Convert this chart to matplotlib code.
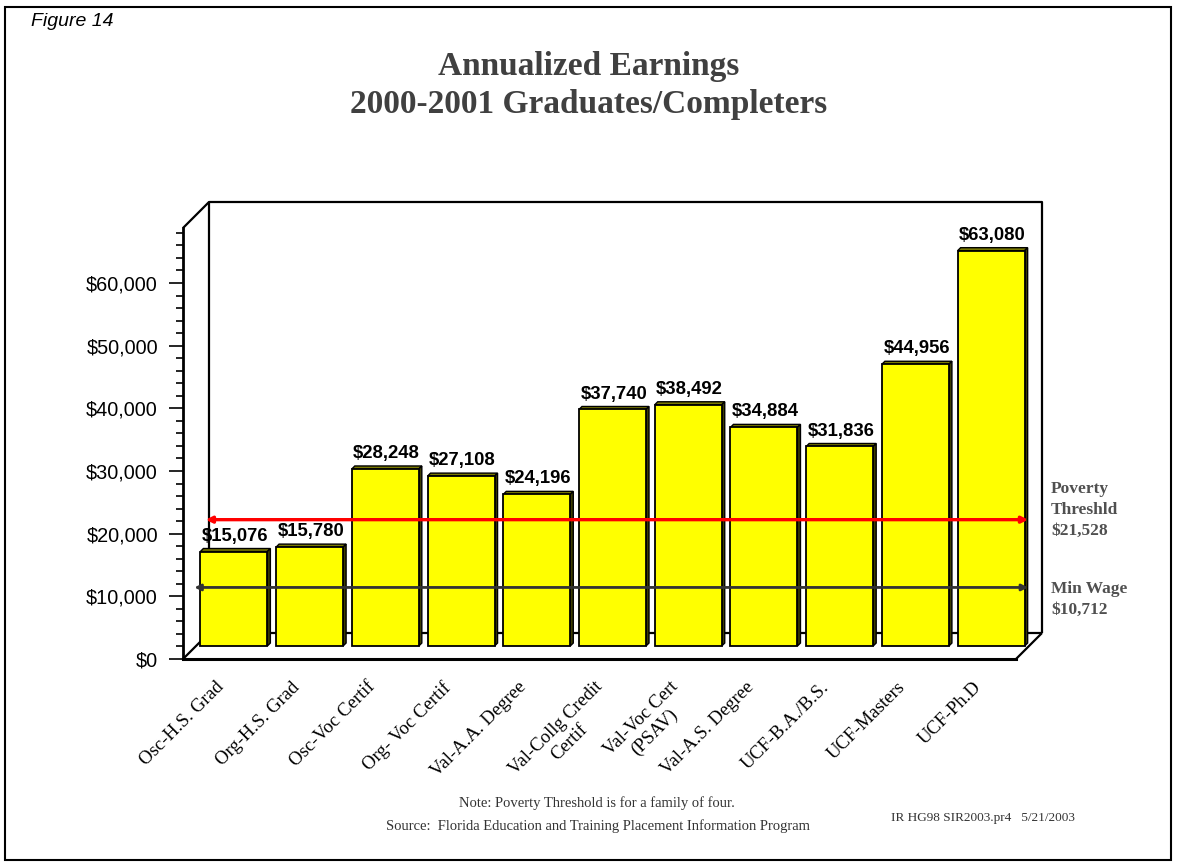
import matplotlib
matplotlib.use("Agg")
import matplotlib.pyplot as plt
from matplotlib.patches import Polygon, Rectangle
from matplotlib.ticker import FuncFormatter

# ---- data -------------------------------------------------------------
categories = [
    "Osc-H.S. Grad", "Org-H.S. Grad", "Osc-Voc Certif", "Org- Voc Certif",
    "Val-A.A. Degree", "Val-Collg Credit\nCertif", "Val-Voc Cert\n(PSAV)",
    "Val-A.S. Degree", "UCF-B.A./B.S.", "UCF-Masters", "UCF-Ph.D",
]
earnings = [15076, 15780, 28248, 27108, 24196, 37740, 38492, 34884, 31836, 44956, 63080]
value_labels = ["$15,076", "$15,780", "$28,248", "$27,108", "$24,196", "$37,740",
                "$38,492", "$34,884", "$31,836", "$44,956", "$63,080"]
poverty_threshold = 21528
min_wage = 10712

SANS = "Liberation Sans"
SERIF = "Liberation Serif"

# ---- figure / axes geometry ------------------------------------------
W, H = 1177, 867
fig = plt.figure(figsize=(W / 100, H / 100), dpi=100)
fig.patch.set_facecolor("white")

# plot box (pixels): front floor from x=183 to 1016, y=659 up to 202
left_px, right_px, bottom_px, top_px = 183, 1016, 659, 202
ax = fig.add_axes([left_px / W, 1 - bottom_px / H,
                   (right_px - left_px) / W, (bottom_px - top_px) / H])
n = len(categories)
px_per_unit = (right_px - left_px) / n
px_per_dollar = 6.267 / 1000
ymax = (bottom_px - top_px) / px_per_dollar
ax.set_xlim(-0.5, n - 0.5)
ax.set_ylim(0, ymax)
ax.set_facecolor("none")

# 3-D depth of the chart box, in data units
depth_px = 26
DX = depth_px / px_per_unit
DY = depth_px / px_per_dollar
x0, x1 = -0.5, n - 0.5
wall_top = ymax - DY  # top of the left wall

# back wall and floor outline
wall_kw = dict(color="black", lw=1.6, solid_capstyle="butt", clip_on=False, zorder=1)
ax.plot([x0 + DX, x0 + DX, x1 + DX, x1 + DX], [DY, ymax, ymax, DY], **wall_kw)
ax.plot([x0 + DX, x1 + DX], [DY, DY], **wall_kw)
ax.plot([x0, x0 + DX], [0, DY], **wall_kw)
ax.plot([x1, x1 + DX], [0, DY], **wall_kw)
ax.plot([x0, x0 + DX], [wall_top, ymax], **wall_kw)

# ---- bars ---------------------------------------------------------------
bar_w = 0.885
ext_x = 3 / px_per_unit
ext_y = 3 / px_per_dollar
xs = [i + 0.5 * DX for i in range(n)]
base = 0.5 * DY
bars = ax.bar(xs, earnings, width=bar_w, bottom=base, color="#ffff00",
              edgecolor="black", linewidth=1.3, zorder=3)
for b in bars:
    b.set_clip_on(False)
for xc, v in zip(xs, earnings):
    l, r = xc - bar_w / 2, xc + bar_w / 2
    t = base + v
    top = Polygon([(l, t), (l + ext_x, t + ext_y), (r + ext_x, t + ext_y), (r, t)],
                  closed=True, facecolor="#7a7a00", edgecolor="black", lw=1.0,
                  zorder=2.9, clip_on=False)
    side = Polygon([(r, base), (r + ext_x, base + ext_y), (r + ext_x, t + ext_y), (r, t)],
                   closed=True, facecolor="#3d3d00", edgecolor="black", lw=1.0,
                   zorder=2.9, clip_on=False)
    ax.add_patch(top)
    ax.add_patch(side)

for xc, v, lab in zip(xs, earnings, value_labels):
    ax.annotate(lab, (xc, base + v), xytext=(1, 5), textcoords="offset points",
                ha="center", va="bottom", fontsize=13.3, fontweight="bold",
                family=SANS, color="black", zorder=5, annotation_clip=False)

# ---- reference lines ----------------------------------------------------
line_off = 0.17 * DY
for val, color, xl, lw in [(poverty_threshold, "#ff0000", x0 + 0.30, 2.4),
                           (min_wage, "#333333", x0 + 0.15, 2.0)]:
    ax.annotate("", xy=(x1 + 0.16, val + line_off), xytext=(xl, val + line_off),
                arrowprops=dict(arrowstyle="<|-|>", color=color, lw=lw,
                                mutation_scale=9, shrinkA=0, shrinkB=0),
                annotation_clip=False, zorder=6)

# ---- axes styling -------------------------------------------------------
for s in ("top", "right"):
    ax.spines[s].set_visible(False)
ax.spines["left"].set_linewidth(2)
ax.spines["left"].set_bounds(0, wall_top)
ax.spines["bottom"].set_linewidth(2.2)
ax.spines["left"].set_zorder(4)
ax.spines["bottom"].set_zorder(4)

ax.set_yticks([t for t in range(0, 60001, 10000)])
ax.set_yticks([t for t in range(2000, int(wall_top), 2000) if t % 10000], minor=True)
ax.yaxis.set_major_formatter(FuncFormatter(lambda v, p: f"${v:,.0f}"))
ax.tick_params(axis="y", which="major", length=10, width=1.2, pad=8,
               labelsize=14.3, direction="out")
ax.tick_params(axis="y", which="minor", length=5, width=1.2, direction="out")
for lbl in ax.get_yticklabels():
    lbl.set_family(SANS)

label_shift = 6 / px_per_unit
ax.set_xticks([i - label_shift for i in range(n)])
ax.set_xticklabels(categories, rotation=45, ha="right", va="top",
                   rotation_mode="anchor", fontsize=13.5, family=SERIF)
for lbl in ax.get_xticklabels():
    lbl.set_multialignment("center")
ax.tick_params(axis="x", length=0, pad=14)

# ---- right-hand notes ---------------------------------------------------
note_kw = dict(fontsize=12.5, fontweight="bold", family=SERIF, color="#505050",
               ha="left", va="top", linespacing=1.4)
fig.text(1051 / W, 1 - 481 / H, f"Poverty\nThreshld\n${poverty_threshold:,}", **note_kw)
fig.text(1051 / W, 1 - 581 / H, f"Min Wage\n${min_wage:,}", **note_kw)

# ---- titles and footer ----------------------------------------------------
fig.text(0.5, 1 - 66 / H, "Annualized Earnings", ha="center", va="center",
         fontsize=24, fontweight="bold", family=SERIF, color="#404040")
fig.text(0.5, 1 - 104 / H, "2000-2001 Graduates/Completers", ha="center", va="center",
         fontsize=24, fontweight="bold", family=SERIF, color="#404040")
fig.text(31 / W, 1 - 22 / H, "Figure 14", ha="left", va="center", fontsize=14,
         style="italic", family=SANS, color="black")
fig.text(597 / W, 1 - 803 / H, "Note: Poverty Threshold is for a family of four.",
         ha="center", va="center", fontsize=10.5, family=SERIF, color="#333333")
fig.text(598 / W, 1 - 826 / H,
         "Source:  Florida Education and Training Placement Information Program",
         ha="center", va="center", fontsize=10.5, family=SERIF, color="#333333")
fig.text(983 / W, 1 - 818 / H, "IR HG98 SIR2003.pr4   5/21/2003", ha="center",
         va="center", fontsize=9.5, family=SERIF, color="#333333")

# outer frame
fig.add_artist(Rectangle((5 / W, 1 - 860 / H), 1166 / W, 853 / H,
                         transform=fig.transFigure, fill=False, lw=1.5,
                         edgecolor="black"))

fig.savefig("out.png", dpi=100, facecolor="white")
